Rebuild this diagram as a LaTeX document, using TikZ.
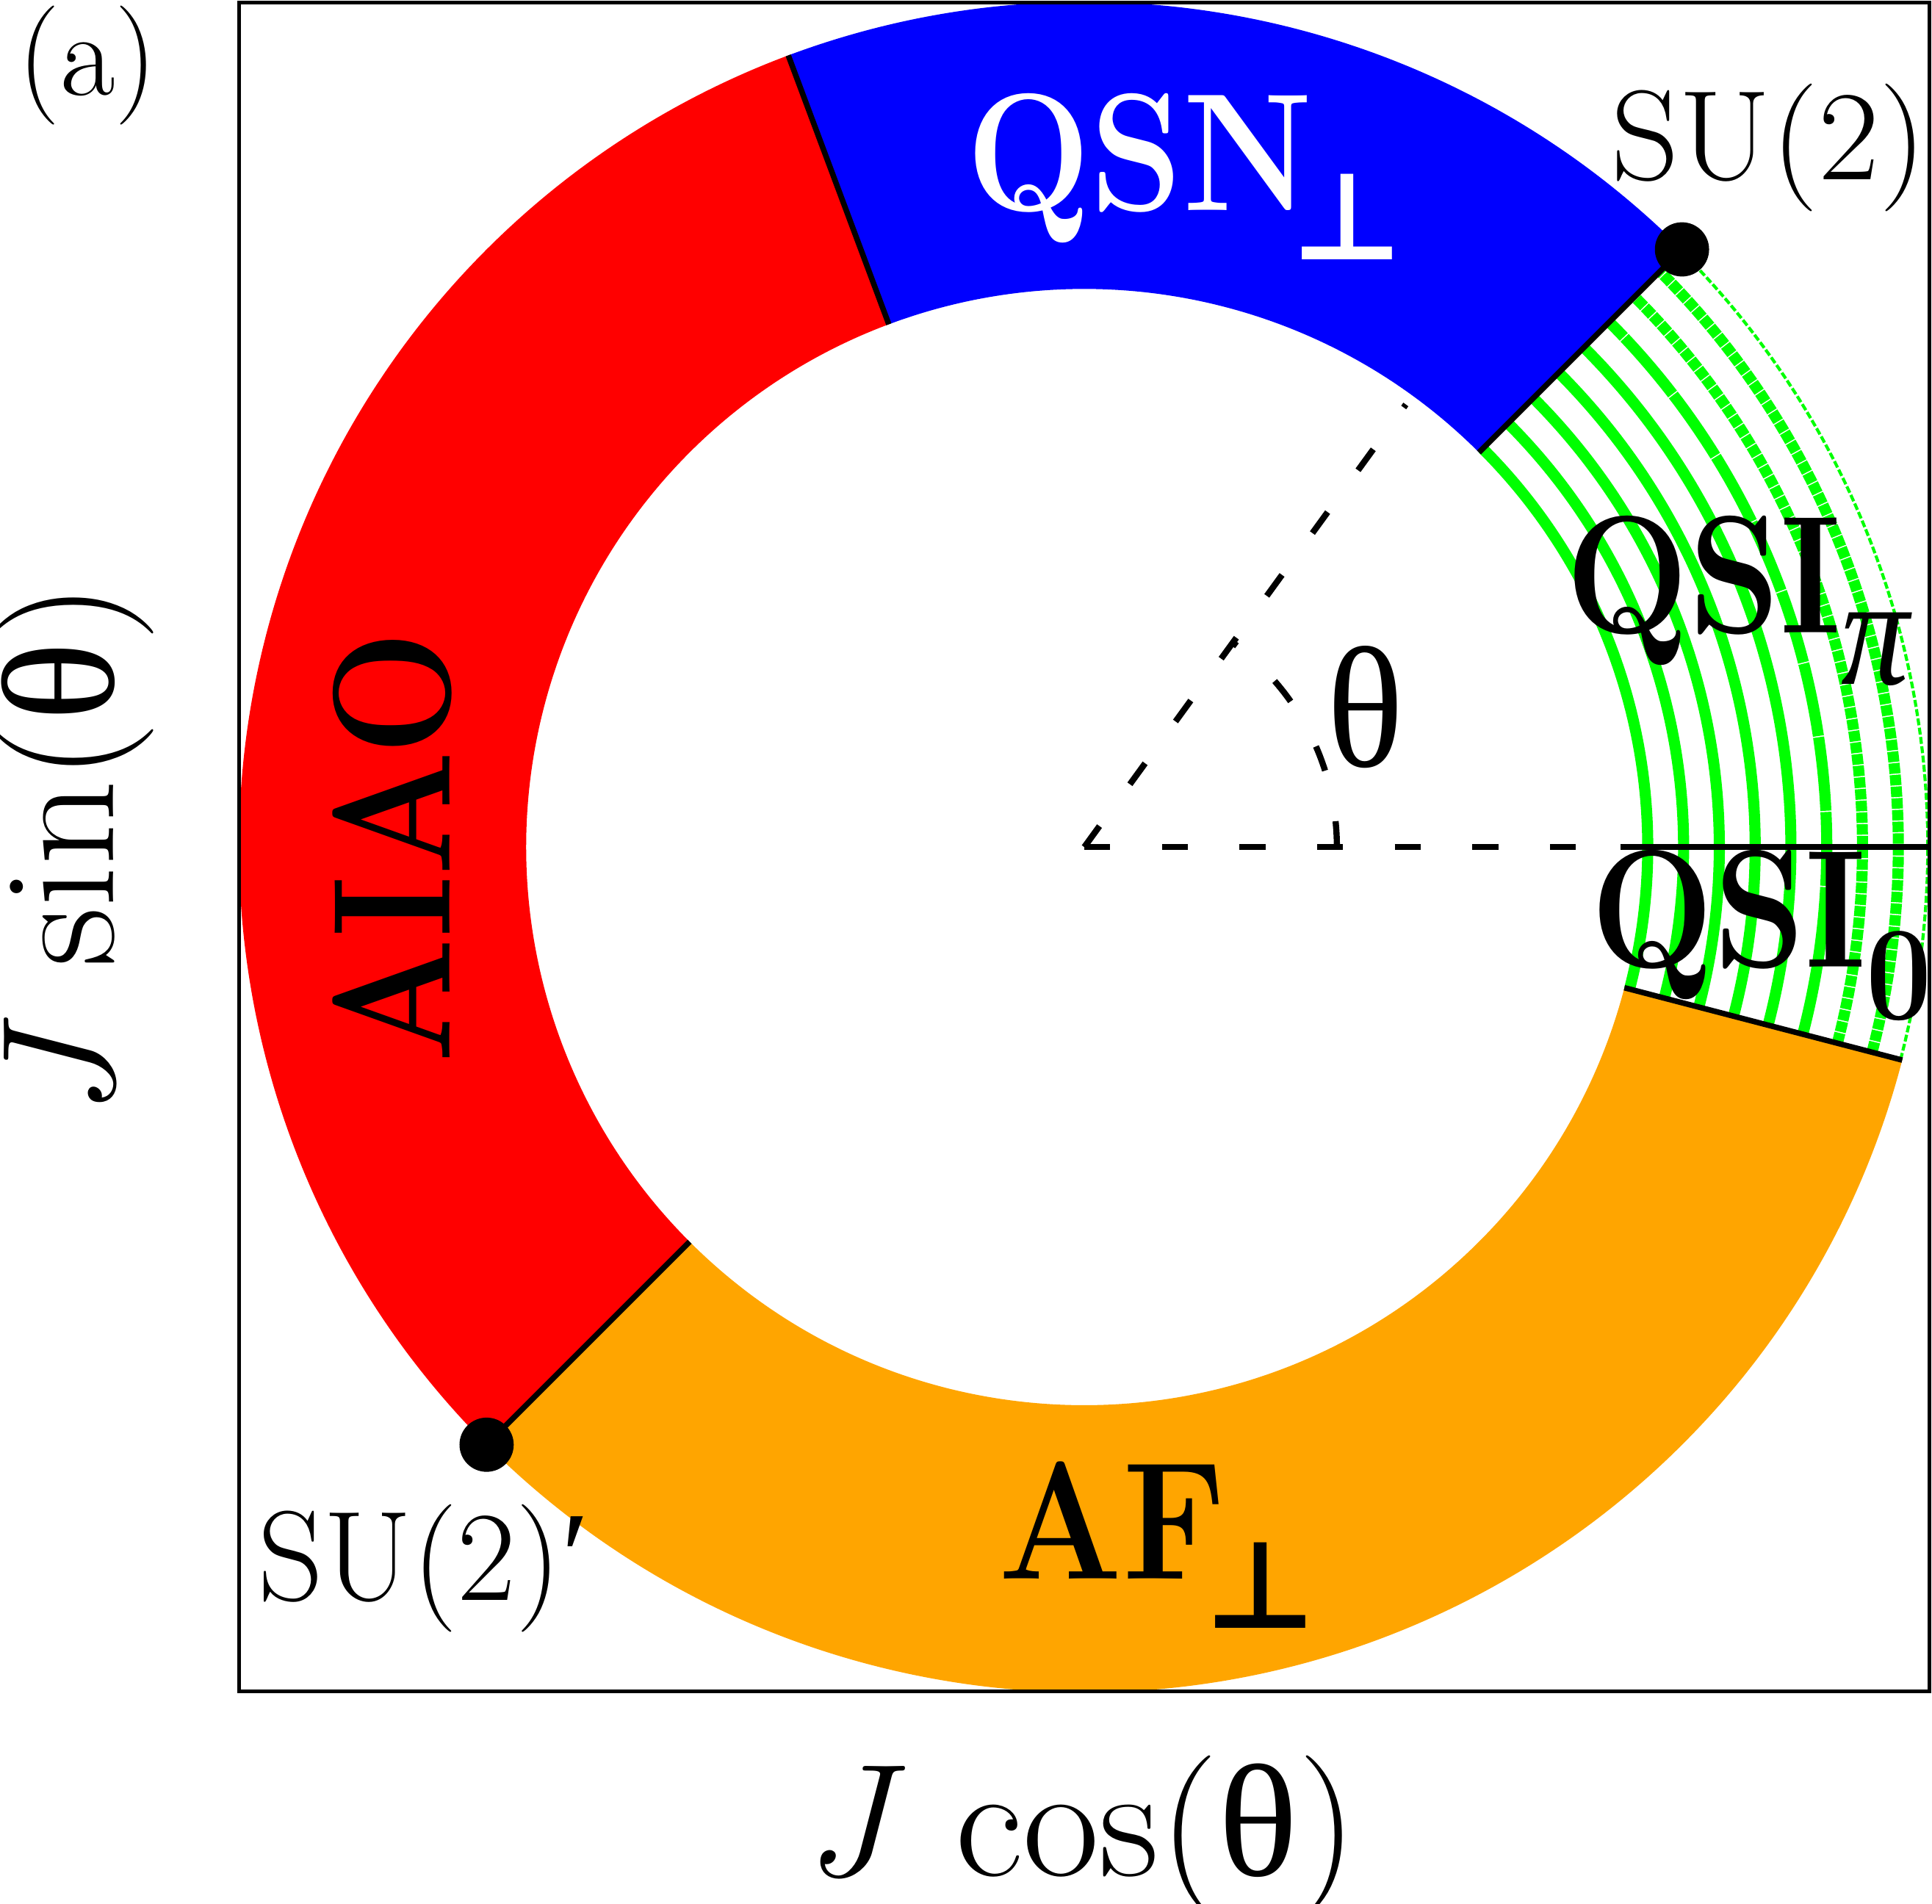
\documentclass[tikz,border=0pt]{standalone}
\usepackage{fontspec}
\newfontfamily\glyphfont{Liberation Serif}
\newfontfamily\perpfont{DejaVu Sans}
\usetikzlibrary{positioning, calc}
\definecolor{phasered}{RGB}{255,0,0}
\definecolor{phaseblue}{RGB}{0,0,255}
\definecolor{phaseorange}{RGB}{255,165,0}
\definecolor{phasegreen}{RGB}{0,255,0}
\newcommand{\rin}{4.53}
\newcommand{\rout}{6.86}
\newcommand{\squeeze}[2]{\scalebox{#1}[1]{#2}}
\newcommand{\thetaglyph}{{\glyphfont θ}}
\newcommand{\perpsub}{\kern-0.17cm\raisebox{-0.40cm}{\fontsize{28}{28}\selectfont\perpfont ⊥}}
\newcommand{\phasesub}[2]{\raisebox{-0.42cm}{\fontsize{#1}{#1}\selectfont #2}}
\tikzset{
  qsiarc/.style={draw=phasegreen, line width=0.09cm},
  boundary/.style={draw=black, line width=0.045cm},
  guide/.style={draw=black, line width=0.05cm, dash pattern=on 0.21cm off 0.42cm},
  critdot/.style={circle, fill=black, inner sep=0pt, minimum size=0.44cm},
  frame/.style={draw=black, line width=0.03cm},
  panellbl/.style={inner sep=0pt, font=\fontsize{27.5}{33}\selectfont},
  smalllbl/.style={inner sep=0pt, font=\fontsize{29.5}{35}\selectfont},
  phaselbl/.style={inner sep=0pt, font=\fontsize{38.7}{46}\selectfont\bfseries},
  thetalbl/.style={inner sep=0pt, font=\fontsize{39.8}{48}\selectfont\glyphfont},
  axislbl/.style={inner sep=0pt, font=\fontsize{37}{44}\selectfont},
}

\begin{document}
\begin{tikzpicture}
  \useasboundingbox (-8.80,-8.575) rectangle (6.88,6.875);
  \coordinate (O) at (0,0);

  % phase sectors
  \foreach \a/\b/\c in {45/110.5/phaseblue, 110.5/225/phasered, 225/345.4/phaseorange}
    \fill[\c] (\a:\rin) arc[start angle=\a, end angle=\b, radius=\rin]
      -- (\b:\rout) arc[start angle=\b, end angle=\a, radius=\rout] -- cycle;

  % QSI region: concentric arcs
  \foreach \r in {4.573, 4.864, 5.154, 5.445, 5.735}
    \draw[qsiarc] (-14.6:\r) arc[start angle=-14.6, end angle=45, radius=\r];
  \draw[qsiarc, dash pattern=on 0.6cm off 0.01cm] (-14.6:6.026) arc[start angle=-14.6, end angle=45, radius=6.026];
  \foreach \r in {6.316, 6.607}
    \draw[qsiarc, dash pattern=on 0.085cm off 0.01cm] (-14.6:\r) arc[start angle=-14.6, end angle=45, radius=\r];
  \draw[qsiarc, line width=0.025cm, dash pattern=on 0.056cm off 0.02cm] (-14.6:6.846) arc[start angle=-14.6, end angle=45, radius=6.846];

  % critical points
  \node[critdot] (su2dot)  at (45:\rout)  {};
  \node[critdot] (su2pdot) at (225:\rout) {};

  % phase boundaries
  \draw[boundary] (45:\rin) -- (su2dot.center);
  \draw[boundary] (110.5:\rin) -- (110.5:\rout);
  \draw[boundary] (225:\rin) -- (su2pdot.center);
  \draw[boundary] (-14.6:\rin) -- (-14.6:\rout);
  \draw[boundary, line width=0.05cm] (4.35,0) -- (\rout,0);

  % angle guide
  \draw[guide] (O) -- (4.35,0);
  \draw[guide] (O) -- (54:4.44);
  \draw[guide] (2.05,0) arc[start angle=0, end angle=54, radius=2.05];

  \draw[frame] (-6.86,-6.855) rectangle (6.86,6.855);

  % labels
  \node[panellbl, anchor=base west] (panel) at (-8.66,6.10) {(a)};
  \node[smalllbl, anchor=base west] (su2)   at (4.27,5.415) {\squeeze{1.04}{SU(2)}};
  \node[smalllbl, anchor=base west] (su2p)  at (-6.71,-6.115) {SU(2){\glyphfont ′}};
  \node[phaselbl, anchor=base west, text=white] (qsn) at (-0.965,5.165) {\squeeze{0.88}{QSN}\perpsub};
  \node[phaselbl, anchor=base west] (qsipi) at (3.90,1.74) {\squeeze{0.87}{QSI\phasesub{36}{\glyphfont\mdseries\itshape π}}};
  \node[phaselbl, anchor=base west] (qsizero) at (4.105,-0.975) {\squeeze{0.87}{QSI\phasesub{31}{0}}};
  \node[phaselbl, anchor=base, rotate=90] (aiao) at (-5.15,0) {\squeeze{0.88}{AIAO}};
  \node[phaselbl, anchor=base west] (afp) at (-0.70,-5.94) {\squeeze{0.87}{AF}\perpsub};
  \node[thetalbl, anchor=base] (theta) at (2.28,0.655) {\squeeze{0.93}{θ}};
  \node[axislbl, anchor=base] (xlab) at (-0.03,-8.35) {\squeeze{1.04}{\textit{J} cos(\thetaglyph)}};
  \node[axislbl, anchor=base, rotate=90] (ylab) at (-7.88,-0.03) {\squeeze{1.04}{\textit{J} sin(\thetaglyph)}};
\end{tikzpicture}
\end{document}
